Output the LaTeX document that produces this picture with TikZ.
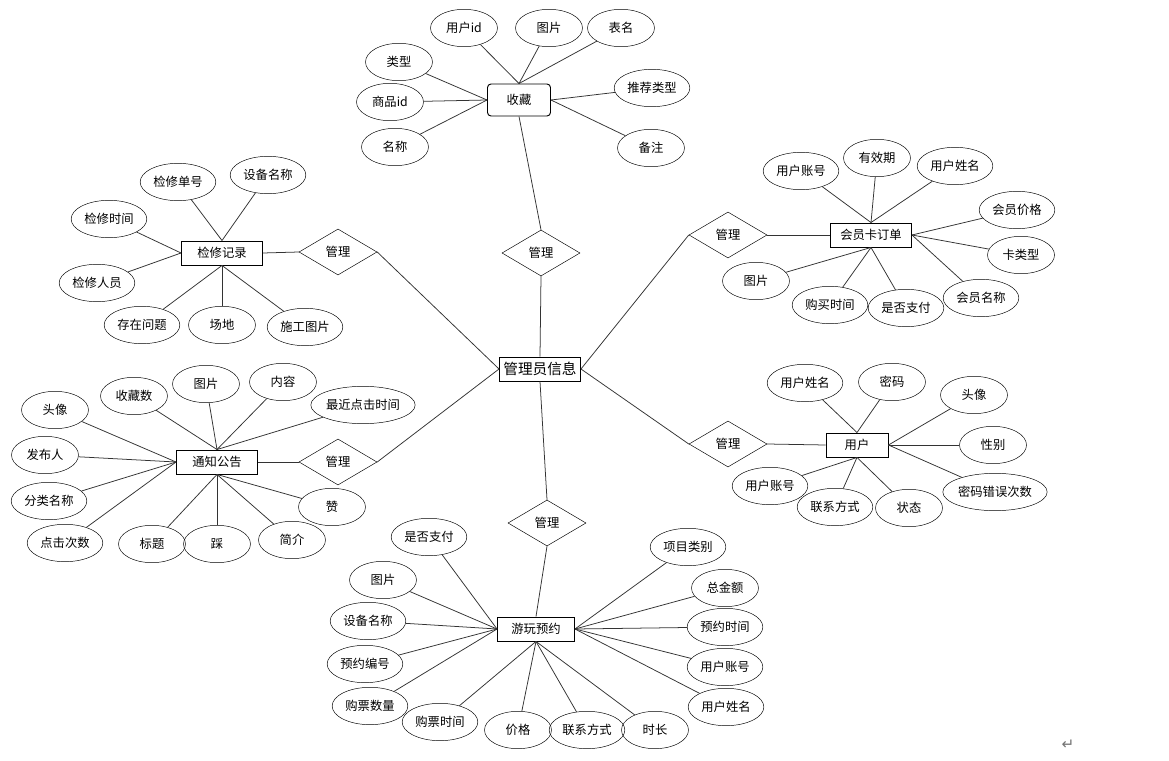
\documentclass[tikz,border=0pt]{standalone}
\usepackage{fontspec}
\setmainfont{Noto Sans CJK SC}
\newfontfamily\symfont{DejaVu Sans}
\usetikzlibrary{shapes.geometric,positioning}

\begin{document}
\begin{tikzpicture}[
	x=0.03cm, y=-0.03cm,
	every node/.style={font=\fontsize{10.5}{12}\selectfont},
	entity/.style={draw, line width=0.8pt, fill=white, minimum width=2.43cm, minimum height=0.72cm, inner sep=1pt},
	attr/.style={draw, ellipse, minimum width=2.01cm, minimum height=1.12cm, inner sep=0pt},
	wattr/.style={attr, minimum width=2.27cm},
	rel/.style={draw, diamond, minimum width=2.34cm, minimum height=1.38cm, inner sep=0pt},
	conn/.style={black!80, line width=0.65pt}
	]
	
	\useasboundingbox (0,0) rectangle (1169,761);
	
	\node[entity, font=\fontsize{12.5}{14}\selectfont] (admin) at (540,369) {管理员信息};
	
	\node[entity, rounded corners=3pt, minimum width=1.89cm, minimum height=0.96cm] (fav) at (519,100) {收藏};
	\node[attr] (favUid) at (464,28) {用户id};
	\node[attr] (favPic) at (549,28) {图片};
	\node[attr] (favTable) at (621,28) {表名};
	\node[attr] (favType) at (399,62) {类型};
	\node[attr] (favGid) at (390,102) {商品id};
	\node[attr] (favName) at (395,147) {名称};
	\node[wattr] (favRec) at (652,88) {推荐类型};
	\node[attr] (favNote) at (651,148) {备注};
	\node[rel] (relFav) at (541,253) {管理};
	
	\node[entity] (rep) at (222,253) {检修记录};
	\node[wattr] (repNo) at (178,182) {检修单号};
	\node[wattr] (repDev) at (268,175) {设备名称};
	\node[wattr] (repTime) at (109,219) {检修时间};
	\node[wattr] (repStaff) at (97,283) {检修人员};
	\node[wattr] (repIssue) at (142,325) {存在问题};
	\node[attr] (repSite) at (222,325) {场地};
	\node[wattr] (repPic) at (305,327) {施工图片};
	\node[rel] (relRep) at (338,252) {管理};
	
	\node[entity] (card) at (871,235) {会员卡订单};
	\node[wattr] (cardAcc) at (801,171) {用户账号};
	\node[attr] (cardValid) at (877,158) {有效期};
	\node[wattr] (cardUname) at (955,166) {用户姓名};
	\node[wattr] (cardPrice) at (1017,210) {会员价格};
	\node[attr] (cardType) at (1021,255) {卡类型};
	\node[wattr] (cardMname) at (981,298) {会员名称};
	\node[wattr] (cardPaid) at (906,308) {是否支付};
	\node[wattr] (cardBuy) at (830,305) {购买时间};
	\node[attr] (cardPic) at (756,281) {图片};
	\node[rel] (relCard) at (728,235) {管理};
	
	\node[entity] (ntc) at (217,462) {通知公告};
	\node[attr] (ntcHead) at (55,410) {头像};
	\node[attr] (ntcFav) at (134,396) {收藏数};
	\node[attr] (ntcPic) at (206,384) {图片};
	\node[attr] (ntcBody) at (283,382) {内容};
	\node[attr, minimum width=3cm] (ntcLast) at (363,405) {最近点击时间};
	\node[attr] (ntcPub) at (45,455) {发布人};
	\node[wattr] (ntcCat) at (49,501) {分类名称};
	\node[wattr] (ntcHits) at (65,543) {点击次数};
	\node[attr] (ntcTitle) at (152,544) {标题};
	\node[attr] (ntcDown) at (217,544) {踩};
	\node[attr] (ntcIntro) at (292,540) {简介};
	\node[attr] (ntcUp) at (332,507) {赞};
	\node[rel] (relNtc) at (338,462) {管理};
	
	\node[entity, minimum width=1.86cm] (usr) at (857,445) {用户};
	\node[wattr] (usrName) at (805,383) {用户姓名};
	\node[attr] (usrPwd) at (892,382) {密码};
	\node[attr] (usrHead) at (974,395) {头像};
	\node[attr] (usrSex) at (993,445) {性别};
	\node[attr, minimum width=2.97cm] (usrErr) at (995,492) {密码错误次数};
	\node[attr] (usrState) at (909,508) {状态};
	\node[wattr] (usrTel) at (835,507) {联系方式};
	\node[wattr] (usrAcc) at (770,486) {用户账号};
	\node[rel] (relUsr) at (728,444) {管理};
	
	\node[entity, minimum width=2.31cm] (bk) at (536,629) {游玩预约};
	\node[wattr] (bkPaid) at (429,537) {是否支付};
	\node[attr] (bkPic) at (383,580) {图片};
	\node[wattr] (bkDev) at (368,621) {设备名称};
	\node[wattr] (bkNo) at (365,664) {预约编号};
	\node[wattr] (bkQty) at (370,706) {购票数量};
	\node[wattr] (bkTime) at (440,722) {购票时间};
	\node[attr] (bkPrice) at (518,730) {价格};
	\node[wattr] (bkTel) at (587,730) {联系方式};
	\node[attr] (bkDur) at (655,730) {时长};
	\node[wattr] (bkCat) at (688,547) {项目类别};
	\node[attr] (bkSum) at (725,588) {总金额};
	\node[wattr] (bkDate) at (725,627) {预约时间};
	\node[wattr] (bkAcc) at (725,667) {用户账号};
	\node[wattr] (bkUname) at (726,707) {用户姓名};
	\node[rel] (relBk) at (547,523) {管理};
	
	\node[text=black!55, font=\symfont\fontsize{13}{14}\selectfont] (ret) at (1068,745) {↵};
	
	\draw[conn] (favUid) -- (fav.north);
	\draw[conn] (favPic) -- (fav.north);
	\draw[conn] (favTable) -- (fav.north);
	\draw[conn] (favType) -- (fav.west);
	\draw[conn] (favGid) -- (fav.west);
	\draw[conn] (favName) -- (fav.west);
	\draw[conn] (favRec) -- (fav.east);
	\draw[conn] (favNote) -- (fav.east);
	\draw[conn] (fav.south) -- (relFav.north);
	\draw[conn] (relFav.south) -- (admin.north);
	
	\draw[conn] (repNo) -- (rep.north);
	\draw[conn] (repDev) -- (rep.north);
	\draw[conn] (repTime) -- (rep.west);
	\draw[conn] (repStaff) -- (rep.west);
	\draw[conn] (repIssue) -- (rep.south);
	\draw[conn] (repSite) -- (rep.south);
	\draw[conn] (repPic) -- (rep.south);
	\draw[conn] (rep.east) -- (relRep.west);
	\draw[conn] (relRep.east) -- (admin.west);
	
	\draw[conn] (cardAcc) -- (card.north);
	\draw[conn] (cardValid) -- (card.north);
	\draw[conn] (cardUname) -- (card.north);
	\draw[conn] (cardPrice) -- (card.east);
	\draw[conn] (cardType) -- (card.east);
	\draw[conn] (cardMname) -- (card.east);
	\draw[conn] (cardPaid) -- (card.south);
	\draw[conn] (cardBuy) -- (card.south);
	\draw[conn] (cardPic) -- (card.south);
	\draw[conn] (relCard.east) -- (card.west);
	\draw[conn] (relCard.west) -- (admin.east);
	
	\draw[conn] (ntcHead) -- (ntc.west);
	\draw[conn] (ntcPub) -- (ntc.west);
	\draw[conn] (ntcCat) -- (ntc.west);
	\draw[conn] (ntcHits) -- (ntc.west);
	\draw[conn] (ntcFav) -- (ntc.north);
	\draw[conn] (ntcPic) -- (ntc.north);
	\draw[conn] (ntcBody) -- (ntc.north);
	\draw[conn] (ntcLast) -- (ntc.north);
	\draw[conn] (ntcTitle) -- (ntc.south);
	\draw[conn] (ntcDown) -- (ntc.south);
	\draw[conn] (ntcIntro) -- (ntc.south);
	\draw[conn] (ntcUp) -- (ntc.south);
	\draw[conn] (ntc.east) -- (relNtc.west);
	\draw[conn] (relNtc.east) -- (admin.west);
	
	\draw[conn] (usrName) -- (usr.north);
	\draw[conn] (usrPwd) -- (usr.north);
	\draw[conn] (usrHead) -- (usr.east);
	\draw[conn] (usrSex) -- (usr.east);
	\draw[conn] (usrErr) -- (usr.east);
	\draw[conn] (usrAcc) -- (usr.south);
	\draw[conn] (usrTel) -- (usr.south);
	\draw[conn] (usrState) -- (usr.south);
	\draw[conn] (relUsr.east) -- (usr.west);
	\draw[conn] (relUsr.west) -- (admin.east);
	
	\draw[conn] (bkPaid) -- (bk.west);
	\draw[conn] (bkPic) -- (bk.west);
	\draw[conn] (bkDev) -- (bk.west);
	\draw[conn] (bkNo) -- (bk.west);
	\draw[conn] (bkQty) -- (bk.west);
	\draw[conn] (bkTime) -- (bk.south);
	\draw[conn] (bkPrice) -- (bk.south);
	\draw[conn] (bkTel) -- (bk.south);
	\draw[conn] (bkDur) -- (bk.south);
	\draw[conn] (bkCat) -- (bk.east);
	\draw[conn] (bkSum) -- (bk.east);
	\draw[conn] (bkDate) -- (bk.east);
	\draw[conn] (bkAcc) -- (bk.east);
	\draw[conn] (bkUname) -- (bk.east);
	\draw[conn] (relBk.south) -- (bk.north);
	\draw[conn] (relBk.north) -- (admin.south);
	
\end{tikzpicture}
\end{document}
